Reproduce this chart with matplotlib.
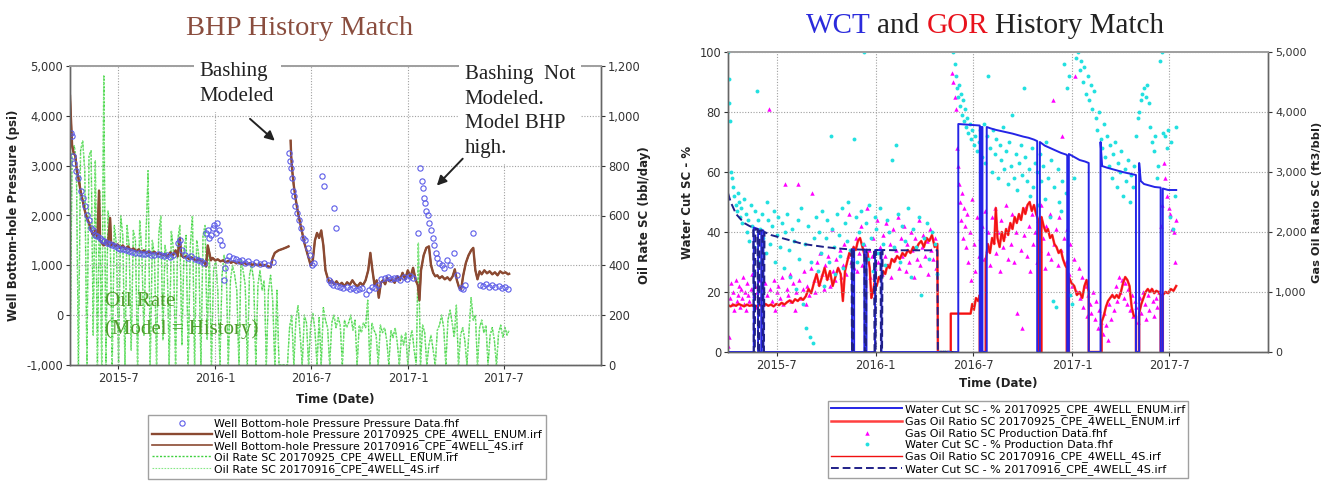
import numpy as np
import matplotlib
matplotlib.use('Agg')
import matplotlib.pyplot as plt
import matplotlib.dates as mdates
from matplotlib.ticker import FuncFormatter, FixedLocator, MultipleLocator

plt.rcParams['font.family'] = ['DejaVu Sans']

# time axis: days counted from 2015-04-01
START = mdates.date2num(np.datetime64('2015-04-01'))
END = mdates.date2num(np.datetime64('2018-01-01'))
tick_dates = ['2015-07-01', '2016-01-01', '2016-07-01', '2017-01-01', '2017-07-01']

# ---------------- BHP history match ----------------
# bottom-hole pressure from the simulation runs (day, psi); nan = well shut in
bhp_model = [
    (0, 4400), (2, 3900), (4, 3400), (7, 3250), (10, 3200), (13, 2900), (16, 2750),
    (20, 2500), (24, 2300), (28, 2100), (32, 1950), (36, 1850), (40, 1700), (44, 1600),
    (48, 1700), (52, 1550), (55, 2500), (57, 1500), (60, 1450), (64, 1400), (68, 1500),
    (72, 1400), (76, 1950), (78, 1400), (82, 1450), (86, 1380), (90, 1420), (95, 1350),
    (100, 1400), (105, 1330), (110, 1380), (115, 1300), (120, 1340), (125, 1280),
    (130, 1320), (135, 1260), (140, 1300), (145, 1250), (150, 1280), (155, 1240),
    (160, 1270), (165, 1220), (170, 1250), (175, 1200), (180, 1230), (185, 1180),
    (190, 1260), (195, 1200), (200, 1300), (204, 1180), (208, 1550), (211, 1200),
    (215, 1160), (220, 1180), (225, 1130), (230, 1160), (235, 1120), (240, 1100),
    (245, 1120), (250, 1080), (255, 1050), (258, 980), (261, 1400), (264, 1250),
    (267, 1100), (270, 1150), (275, 1100), (280, 1120), (285, 1080), (290, 1100),
    (295, 1060), (300, 1090), (305, 1050), (310, 1080), (315, 1040), (320, 1060),
    (325, 1030), (330, 1050), (335, 1020), (340, 1040), (345, 1010), (350, 1030),
    (355, 1000), (360, 1020), (365, 990), (370, 1010), (375, 980), (380, 960),
    (384, 1150), (388, 1250), (395, 1300), (403, 1330), (410, 1360), (414, 1380),
    (416, np.nan),
    (418, 3500), (419, 3200), (421, 2900), (424, 2600), (428, 2300), (432, 2050),
    (436, 1850), (440, 1650), (444, 1450), (448, 1300), (452, 1150), (456, 1000),
    (460, 1100), (464, 1500), (468, 1650), (472, 1550), (476, 1700), (480, 1400),
    (484, 900), (488, 750), (492, 650), (496, 700), (500, 620), (505, 680), (510, 600),
    (515, 650), (520, 580), (525, 660), (530, 610), (535, 700), (540, 620), (545, 580),
    (550, 650), (555, 600), (560, 700), (565, 900), (569, 1250), (573, 900), (577, 600),
    (581, 700), (585, 350), (589, 650), (593, 700), (597, 620), (601, 750), (605, 680),
    (610, 720), (615, 650), (620, 780), (625, 700), (630, 850), (635, 720), (640, 900),
    (645, 760), (650, 950), (655, 700), (659, 600), (662, 300), (665, 900), (670, 1200),
    (675, 1350), (680, 1380), (684, 1000), (688, 850), (692, 780), (696, 800), (700, 740),
    (705, 780), (710, 720), (715, 760), (720, 700), (725, 780), (729, 920), (733, 700),
    (737, 560), (741, 520), (745, 800), (750, 1050), (755, 1200), (760, 1300), (764, 1350),
    (768, 900), (772, 720), (776, 880), (780, 820), (785, 900), (790, 840), (795, 880),
    (800, 820), (805, 860), (810, 800), (815, 880), (820, 840), (825, 860), (830, 820),
    (832, 830),
]

# measured bottom-hole pressure (day, psi)
bhp_data = [
    (2, 3650), (4, 3600), (6, 3200), (8, 3050), (12, 2900), (16, 2750), (20, 2500),
    (24, 2350), (28, 2200), (32, 2000), (36, 1900), (40, 1750), (44, 1700), (48, 1600),
    (52, 1580), (56, 1550), (60, 1500), (65, 1480), (70, 1450), (75, 1420), (80, 1400),
    (85, 1380), (90, 1350), (95, 1330), (100, 1320), (106, 1300), (112, 1280), (118, 1260),
    (124, 1250), (130, 1240), (136, 1230), (142, 1220), (148, 1250), (154, 1210),
    (160, 1200), (166, 1230), (172, 1200), (178, 1180), (184, 1200), (190, 1170),
    (196, 1200), (204, 1450), (208, 1500), (212, 1300), (218, 1200), (224, 1150),
    (230, 1180), (236, 1120), (242, 1100), (248, 1080), (254, 1050), (258, 1650),
    (261, 1700), (264, 1550), (267, 1600), (270, 1750), (273, 1800), (276, 1650),
    (279, 1850), (282, 1700), (285, 1500), (288, 1400), (291, 700), (294, 950),
    (297, 1100), (302, 1180), (308, 1150), (314, 1120), (320, 1080), (326, 1100),
    (332, 1050), (338, 1080), (345, 1030), (352, 1060), (360, 1020), (368, 1050),
    (376, 1000), (384, 1070),
    (414, 3250), (416, 3100), (418, 2950), (420, 2750), (422, 2500), (424, 2400),
    (427, 2200), (430, 2050), (434, 1900), (438, 1750), (442, 1550), (446, 1500),
    (450, 1350), (454, 1200), (458, 1000), (462, 1050), (478, 2800), (481, 2600),
    (500, 2150), (503, 1750), (490, 700), (494, 650), (498, 600), (506, 580), (512, 560),
    (518, 540), (524, 560), (530, 520), (536, 540), (542, 500), (548, 520), (554, 550),
    (560, 430), (566, 500), (572, 560), (578, 540), (584, 600), (590, 720), (596, 740),
    (602, 760), (608, 720), (614, 750), (620, 740), (626, 700), (632, 760), (638, 720),
    (644, 780), (650, 750), (660, 1650), (664, 2950), (666, 2700), (668, 2550),
    (670, 2350), (672, 2250), (675, 2100), (678, 2000), (681, 1850), (684, 1700),
    (687, 1550), (690, 1400), (693, 1250), (696, 1150), (700, 1050), (704, 1000),
    (708, 950), (714, 1100), (720, 1000), (728, 1250), (734, 800), (740, 550), (744, 520),
    (748, 600), (764, 1650), (776, 600), (782, 580), (788, 620), (794, 570), (800, 600),
    (806, 560), (812, 590), (818, 550), (824, 560), (830, 530),
]

# oil rate (bbl/day), one value every 4 days from day 0 to day 832
oil_step = 4
oil_rate = [
    0, 850, 880, 820, 0, 860, 900, 780, 0, 840,
    860, 120, 820, 0, 700, 0, 1160, 0, 620, 540,
    0, 560, 480, 0, 600, 520, 0, 560, 480, 60,
    540, 500, 0, 580, 460, 120, 520, 780, 0, 500,
    440, 0, 520, 600, 100, 480, 420, 0, 540, 460,
    0, 500, 560, 80, 460, 520, 0, 480, 600, 0,
    500, 440, 0, 520, 560, 100, 460, 0, 380, 420,
    300, 0, 360, 440, 380, 0, 340, 400, 360, 300,
    0, 420, 380, 320, 0, 360, 400, 340, 0, 320,
    380, 300, 340, 0, 300, 360, 260, 0, 300, 0,
    0, 0, 0, 0, 150, 200, 0, 180, 240, 120,
    0, 200, 170, 0, 160, 210, 140, 0, 190, 0,
    230, 180, 150, 0, 170, 200, 150, 190, 160, 0,
    180, 150, 170, 200, 140, 180, 0, 160, 130, 170,
    150, 260, 0, 170, 140, 120, 0, 160, 130, 150,
    100, 0, 140, 110, 150, 90, 0, 120, 80, 130,
    0, 100, 140, 60, 0, 490, 0, 160, 130, 0,
    80, 120, 60, 0, 140, 160, 200, 150, 0, 180,
    220, 170, 110, 240, 0, 120, 150, 100, 0, 140,
    270, 180, 200, 0, 150, 180, 130, 160, 0, 120,
    150, 100, 0, 130, 160, 110, 150, 120, 140,
]

# ---------------- WCT / GOR history match ----------------
# water cut, run 20170925 ENUM (day, %)
wct_enum = [
    (0, 0), (48, 0), (48, 41.5), (56, 41), (56, 0), (62, 0), (62, 40.5), (66, 40.5),
    (66, 0), (231, 0), (231, 34.2), (235, 34.2), (235, 0), (254, 0), (254, 34.1),
    (258, 34.1), (258, 0), (274, 0), (274, 34), (286, 34), (286, 0),
    (429, 0), (429, 76), (469, 75.5), (469, 0), (472, 0), (472, 75), (474, 75), (474, 0),
    (482, 0), (482, 75), (490, 74.5), (500, 74), (510, 73.6), (520, 73.2), (530, 72.8),
    (540, 72.3), (550, 71.8), (560, 71.4), (570, 70.8), (576, 70.3), (576, 0), (581, 0),
    (581, 70), (590, 68.8), (600, 68), (610, 67.2), (620, 66.4), (630, 65.8), (632, 65.5),
    (632, 0), (635, 0), (635, 66), (645, 65), (655, 64), (665, 63.5), (672, 63), (672, 0),
    (694, 0), (694, 70), (697, 62), (705, 61.5), (715, 61), (725, 60.5), (735, 60),
    (745, 59.6), (755, 59.2), (760, 59), (760, 0), (766, 0), (766, 63), (769, 57),
    (775, 56), (785, 55.5), (795, 55), (806, 54.8), (806, 0), (810, 0), (810, 54.5),
    (820, 54), (835, 54),
]

# water cut, run 20170916 4S (day, %)
wct_4s = [
    (0, 53), (5, 50), (10, 48), (15, 46), (20, 45), (25, 44), (30, 43), (35, 42.5),
    (40, 42), (47, 41.5), (48, 0), (50, 0), (51, 41), (55, 41), (56, 0), (58, 0),
    (59, 40.5), (64, 40.5), (65, 0), (67, 0), (68, 40), (80, 39), (100, 38), (120, 37),
    (140, 36), (160, 35.5), (180, 35), (200, 34.6), (220, 34.3), (230, 34.2), (231, 0),
    (233, 0), (234, 34.2), (254, 34.1), (255, 0), (257, 0), (258, 34.1), (272, 34),
    (273, 0), (275, 0), (276, 34), (284, 34), (285, 0), (287, 0), (288, 34), (320, 33.9),
    (360, 33.9), (390, 33.9), (391, 0), (420, 0),
]

# gas-oil ratio, simulation (day, ft3/bbl)
gor_model = [
    (0, 780), (5, 760), (10, 790), (15, 770), (20, 800), (25, 780), (30, 760), (35, 790),
    (40, 770), (45, 780), (50, 760), (60, 780), (66, 760), (70, 800), (75, 770), (80, 790),
    (85, 760), (90, 800), (95, 780), (100, 820), (105, 790), (110, 830), (115, 860),
    (120, 820), (125, 880), (130, 850), (135, 900), (140, 870), (145, 930), (150, 1050),
    (155, 980), (160, 1150), (165, 1300), (170, 1100), (175, 1250), (180, 1400),
    (185, 1200), (190, 1350), (195, 1100), (200, 1250), (205, 1400), (210, 1300),
    (214, 850), (218, 1350), (222, 1500), (226, 1650), (230, 1600), (234, 1750),
    (238, 1700), (242, 1850), (246, 1900), (249, 1800), (252, 1700), (256, 1550),
    (260, 1650), (264, 1400), (267, 900), (270, 1000), (273, 1150), (277, 1100),
    (281, 1250), (285, 1200), (289, 1350), (293, 1300), (297, 1450), (301, 1400),
    (305, 1550), (310, 1500), (315, 1600), (320, 1550), (325, 1650), (330, 1600),
    (335, 1700), (340, 1650), (345, 1750), (350, 1700), (355, 1800), (360, 1850),
    (365, 1750), (370, 1900), (375, 1850), (380, 1950), (385, 1750), (390, 1800),
    (391, 0), (415, 0), (415, 640), (420, 640), (440, 640), (452, 640), (455, 800),
    (458, 700), (462, 900), (466, 850), (469, 950), (469, 0), (480, 0), (480, 1500),
    (484, 1800), (488, 1650), (492, 1900), (496, 1800), (499, 2400), (502, 1900),
    (506, 1750), (510, 2000), (514, 1850), (518, 2050), (522, 1950), (526, 2150),
    (530, 2050), (534, 2250), (538, 2150), (542, 2300), (546, 2200), (550, 2400),
    (554, 2300), (558, 2450), (562, 2500), (566, 2350), (570, 2450), (574, 2300),
    (578, 2200), (578, 0), (584, 0), (584, 2250), (588, 2100), (592, 2000), (596, 2050),
    (600, 1900), (604, 1950), (608, 1800), (612, 1750), (616, 1650), (620, 1700),
    (624, 1550), (628, 1450), (631, 1400), (631, 0), (635, 0), (635, 1250), (640, 1150),
    (645, 1100), (650, 950), (655, 1000), (660, 900), (664, 1100), (668, 1200),
    (672, 1000), (672, 0), (696, 0), (696, 500), (700, 600), (704, 750), (708, 850),
    (712, 900), (716, 950), (720, 900), (724, 950), (728, 900), (732, 1000), (736, 1150),
    (740, 1250), (744, 1200), (748, 1100), (752, 750), (756, 600), (760, 600), (760, 0),
    (766, 0), (766, 650), (770, 800), (774, 900), (778, 1000), (782, 1050), (786, 1000),
    (790, 1050), (794, 980), (798, 1020), (802, 1000), (806, 950), (806, 0), (810, 0),
    (810, 950), (815, 1000), (820, 980), (825, 1050), (830, 1020), (835, 1100),
]

# production data: water cut (day, %)
wct_data = [
    (0, 100), (1, 91), (2, 83), (3, 77), (5, 60), (7, 58), (9, 55), (12, 52), (14, 49),
    (16, 47), (18, 53), (20, 50), (22, 45), (25, 48), (27, 43), (30, 51), (33, 46),
    (35, 40), (38, 44), (40, 37), (42, 49), (45, 42), (48, 35), (50, 47), (54, 87),
    (56, 44), (58, 30), (60, 41), (63, 46), (66, 38), (70, 33), (73, 50), (75, 44),
    (78, 36), (82, 42), (85, 47), (88, 30), (91, 39), (94, 45), (97, 35), (100, 43),
    (104, 28), (107, 40), (110, 46), (113, 34), (116, 25), (120, 41), (123, 37), (126, 21),
    (130, 44), (133, 31), (136, 48), (140, 16), (143, 36), (146, 8), (149, 42), (152, 5),
    (155, 30), (158, 3), (161, 38), (164, 45), (167, 27), (170, 40), (173, 33), (176, 47),
    (179, 22), (182, 38), (185, 44), (188, 30), (191, 72), (194, 41), (197, 35), (200, 26),
    (203, 46), (206, 39), (209, 32), (212, 48), (215, 28), (218, 43), (221, 37), (224, 50),
    (228, 34), (235, 71), (238, 45), (241, 30), (244, 40), (248, 47), (251, 36), (254, 100),
    (257, 43), (260, 31), (263, 49), (266, 38), (270, 27), (273, 45), (276, 41), (280, 33),
    (284, 48), (288, 36), (292, 29), (296, 44), (300, 40), (305, 64), (309, 35), (313, 69),
    (317, 46), (321, 30), (325, 42), (330, 37), (335, 48), (340, 25), (345, 41), (350, 35),
    (355, 45), (360, 19), (365, 38), (370, 43), (375, 31), (380, 40), (385, 36), (390, 26),
    (395, 0), (400, 0), (405, 0), (410, 0),
    (420, 100), (422, 96), (424, 92), (426, 88), (428, 85), (430, 89), (432, 82), (434, 86),
    (436, 79), (438, 84), (440, 77), (442, 81), (444, 75), (446, 78), (448, 73), (450, 76),
    (452, 71), (455, 74), (458, 69), (461, 72), (464, 67), (467, 70), (470, 74), (473, 65),
    (476, 76), (479, 63), (482, 72), (485, 92), (488, 68), (491, 60), (494, 74), (497, 66),
    (500, 71), (503, 58), (506, 69), (509, 64), (512, 75), (515, 61), (518, 67), (521, 56),
    (524, 70), (527, 62), (530, 79), (533, 58), (536, 66), (539, 54), (542, 63), (545, 69),
    (548, 59), (551, 88), (554, 65), (557, 57), (560, 61), (563, 52), (566, 68), (569, 55),
    (572, 63), (575, 60), (578, 49), (581, 66), (584, 57), (587, 62), (590, 51), (593, 70),
    (596, 58), (599, 45), (602, 64), (605, 17), (608, 55), (611, 15), (614, 61), (617, 50),
    (620, 47), (623, 57), (626, 96), (629, 53), (632, 88), (635, 92), (638, 19), (641, 16),
    (644, 58), (648, 98), (652, 100), (655, 94), (658, 97), (661, 90), (664, 95), (667, 86),
    (670, 92), (673, 84), (676, 89), (679, 81), (682, 87), (685, 78), (688, 74), (691, 80),
    (694, 71), (697, 68), (700, 76), (703, 65), (706, 72), (709, 62), (712, 69), (715, 58),
    (718, 66), (721, 70), (724, 55), (727, 63), (730, 60), (733, 67), (736, 52), (739, 61),
    (742, 57), (745, 64), (748, 50), (751, 59), (754, 55), (757, 62), (760, 72), (763, 78),
    (766, 80), (769, 84), (772, 86), (775, 88), (778, 85), (781, 89), (784, 83), (787, 75),
    (790, 70), (793, 67), (796, 72), (799, 58), (802, 62), (805, 97), (808, 100), (811, 73),
    (814, 72), (817, 68), (820, 74), (823, 45), (826, 70), (829, 41), (832, 52), (835, 75),
]

# production data: gas-oil ratio (day, ft3/bbl)
gor_data = [
    (0, 100), (2, 250), (4, 900), (6, 1150), (8, 800), (10, 1000), (12, 700), (14, 1200),
    (16, 850), (18, 950), (20, 1100), (22, 750), (24, 1050), (26, 900), (28, 1250),
    (30, 800), (32, 1000), (34, 700), (36, 1150), (38, 950), (40, 850), (42, 1050),
    (44, 1300), (46, 800), (48, 950), (50, 1100), (52, 750), (54, 1000), (57, 1200),
    (60, 900), (63, 1050), (66, 800), (69, 1150), (72, 950), (76, 4050), (79, 1050),
    (82, 850), (85, 1200), (88, 700), (91, 1000), (94, 1100), (97, 900), (100, 1250),
    (103, 800), (106, 2800), (109, 1050), (112, 950), (115, 1300), (118, 850), (121, 1150),
    (124, 700), (127, 1000), (130, 2800), (133, 1200), (136, 900), (139, 1050), (142, 1350),
    (145, 800), (148, 1100), (151, 950), (154, 1400), (157, 2650), (160, 1200), (163, 1000),
    (166, 1500), (169, 1150), (172, 1650), (175, 1300), (178, 1050), (181, 1450),
    (184, 1250), (187, 1600), (190, 1100), (193, 2050), (196, 1350), (199, 1200),
    (202, 1550), (205, 1400), (208, 1700), (211, 1250), (214, 1450), (217, 1800),
    (220, 1300), (223, 1600), (226, 2300), (229, 1500), (232, 1750), (235, 1400),
    (238, 1900), (241, 1350), (244, 1650), (247, 2100), (250, 1450), (253, 1800),
    (256, 1550), (259, 2400), (262, 1700), (265, 1250), (268, 1600), (271, 1900),
    (274, 1400), (277, 2200), (280, 1500), (283, 1750), (286, 1300), (289, 1950),
    (292, 1600), (295, 2150), (298, 1450), (301, 1800), (304, 1250), (307, 2050),
    (310, 1550), (313, 1700), (316, 2250), (319, 1400), (322, 1900), (325, 1600),
    (328, 2100), (331, 1350), (334, 1800), (337, 1500), (340, 2000), (343, 1700),
    (346, 1250), (349, 1900), (352, 1550), (355, 2200), (358, 1450), (361, 1750),
    (364, 1950), (367, 1600), (370, 1850), (373, 1300), (376, 2050), (379, 1700),
    (382, 1550), (385, 1900), (388, 1400),
    (392, 0), (396, 0), (400, 0), (404, 0), (408, 0), (412, 0),
    (418, 4650), (420, 4500), (422, 4250), (424, 4050), (426, 3400), (428, 3100),
    (430, 2800), (432, 2500), (434, 2200), (436, 2650), (438, 1900), (440, 2400),
    (442, 2100), (444, 1750), (446, 2300), (448, 1500), (450, 2000), (452, 1200),
    (455, 2550), (458, 1800), (461, 1350), (464, 2250), (467, 1600), (470, 1900),
    (473, 2100), (476, 1550), (479, 2350), (482, 1700), (485, 2000), (488, 1450),
    (491, 2250), (494, 1850), (497, 2400), (500, 1650), (503, 2000), (506, 1350),
    (509, 2200), (512, 1750), (515, 1950), (518, 2450), (521, 1550), (524, 2100),
    (527, 1800), (530, 2300), (533, 1500), (536, 2000), (539, 650), (542, 2250),
    (545, 1700), (548, 400), (551, 1950), (554, 2400), (557, 1600), (560, 2100),
    (563, 1350), (566, 2300), (569, 1800), (572, 2000), (575, 1500), (578, 2200),
    (581, 1700), (584, 2450), (587, 1900), (590, 1400), (593, 2100), (596, 1650),
    (599, 2300), (602, 1550), (605, 4200), (608, 1800), (611, 2050), (614, 1450),
    (617, 2250), (620, 1700), (623, 3600), (626, 1900), (629, 1500), (632, 2050),
    (635, 1300), (638, 1800), (641, 1100), (644, 1550), (647, 4600), (650, 1000),
    (653, 1400), (656, 900), (659, 1250), (662, 750), (665, 1100), (668, 600), (671, 950),
    (674, 800), (677, 650), (680, 1000), (683, 550), (686, 850), (689, 400), (692, 700),
    (695, 500), (698, 300), (701, 650), (704, 450), (707, 200), (710, 800), (713, 550),
    (716, 950), (719, 700), (722, 1100), (725, 850), (728, 1250), (731, 1000), (734, 1200),
    (737, 900), (740, 1150), (743, 800), (746, 1050), (749, 700), (752, 950), (755, 600),
    (758, 850), (761, 750), (764, 500), (767, 900), (770, 650), (773, 1000), (776, 800),
    (779, 550), (782, 950), (785, 700), (788, 1050), (791, 850), (794, 600), (797, 900),
    (800, 750), (803, 1000), (806, 2100), (809, 2450), (812, 3150), (815, 2900),
    (818, 2600), (821, 2400), (824, 2300), (827, 2050), (830, 2000), (833, 1500),
    (835, 2200),
]

bhp_labels = ['Well Bottom-hole Pressure Pressure Data.fhf',
              'Well Bottom-hole Pressure 20170925_CPE_4WELL_ENUM.irf',
              'Well Bottom-hole Pressure 20170916_CPE_4WELL_4S.irf',
              'Oil Rate SC 20170925_CPE_4WELL_ENUM.irf',
              'Oil Rate SC 20170916_CPE_4WELL_4S.irf']
wct_labels = ['Water Cut SC - % 20170925_CPE_4WELL_ENUM.irf',
              'Gas Oil Ratio SC 20170925_CPE_4WELL_ENUM.irf',
              'Gas Oil Ratio SC Production Data.fhf',
              'Water Cut SC - % Production Data.fhf',
              'Gas Oil Ratio SC 20170916_CPE_4WELL_4S.irf',
              'Water Cut SC - % 20170916_CPE_4WELL_4S.irf']

SERIF = 'Liberation Serif'
W, H = 1325, 482


def xy(pairs):
    d, v = zip(*pairs)
    return START + np.array(d, dtype=float), np.array(v, dtype=float)


def date_label(v, pos):
    d = mdates.num2date(v)
    return '%d-%d' % (d.year, d.month)


def comma(v, pos):
    return '{:,.0f}'.format(v)


def style_axes(ax, ax2):
    ax.set_xlim(START, END)
    ax.xaxis.set_major_locator(FixedLocator(
        [mdates.date2num(np.datetime64(d)) for d in tick_dates]))
    ax.xaxis.set_major_formatter(FuncFormatter(date_label))
    ax.grid(True, color='#a0a0a0', linestyle=(0, (1, 1.5)), linewidth=0.8)
    for a in (ax, ax2):
        a.tick_params(labelsize=8.3, colors='#333333', length=3, width=0.8, pad=2)
        for side in ('left', 'right', 'bottom'):
            a.spines[side].set_color('#666666')
            a.spines[side].set_linewidth(1.0)
        a.spines['top'].set_color('#a0a0a0')
        a.spines['top'].set_linewidth(1.3)
    ax.yaxis.set_major_formatter(FuncFormatter(comma))
    ax2.yaxis.set_major_formatter(FuncFormatter(comma))
    # primary series drawn over the twin axis series
    ax.set_zorder(ax2.get_zorder() + 1)
    ax.patch.set_visible(False)


def text_width(fig, renderer, s, **kw):
    t = fig.text(0, 0, s + 'x', **kw)
    b = fig.text(0, 0, 'x', **kw)
    w = t.get_window_extent(renderer).width - b.get_window_extent(renderer).width
    t.remove()
    b.remove()
    return w


def colored_title(fig, parts, xc, y, **kw):
    # words of one title line, each in its own colour
    renderer = fig.canvas.get_renderer()
    full = ' '.join(s for s, c in parts)
    x0 = xc - text_width(fig, renderer, full, **kw) / fig.bbox.width / 2
    prefix = ''
    for s, c in parts:
        off = text_width(fig, renderer, prefix, **kw) if prefix else 0
        fig.text(x0 + off / fig.bbox.width, y, s, color=c, ha='left', va='baseline', **kw)
        prefix += s + ' '


fig = plt.figure(figsize=(W / 100, H / 100), dpi=100)

# ---------- left: BHP ----------
ax1 = fig.add_axes([70 / W, 1 - 365 / H, 531 / W, 299 / H])
ax1r = ax1.twinx()

oil_x = START + np.arange(len(oil_rate)) * oil_step
l_oil1, = ax1r.plot(oil_x, oil_rate, color='#3fd13f', lw=1.0, linestyle=(0, (1.5, 1.2)))
l_oil2, = ax1r.plot(oil_x, oil_rate, color='#86e886', lw=0.8, linestyle=(0, (1.5, 1.2)))

bx, by = xy(bhp_model)
l_bhp1, = ax1.plot(bx, by, color='#8b4a32', lw=1.7)
l_bhp2, = ax1.plot(bx, by, color='#8b4a32', lw=1.2)
dx, dy = xy(bhp_data)
l_pts, = ax1.plot(dx, dy, linestyle='none', marker='o', ms=3.8, mfc='none',
                  mec='#5c5ce8', mew=0.8)

ax1.set_ylim(-1000, 5000)
ax1.yaxis.set_major_locator(MultipleLocator(1000))
ax1r.set_ylim(0, 1200)
ax1r.yaxis.set_major_locator(MultipleLocator(200))
style_axes(ax1, ax1r)

ax1.set_xlabel('Time (Date)', fontsize=8.5, fontweight='bold', color='#222222')
ax1.xaxis.set_label_coords(0.5, -0.095)
ax1.set_ylabel('Well Bottom-hole Pressure (psi)', fontsize=8.5, fontweight='bold',
               color='#222222')
ax1.yaxis.set_label_coords(-0.094, 0.5)
ax1r.set_ylabel('Oil Rate SC (bbl/day)', fontsize=8.5, fontweight='bold', color='#222222')
ax1r.yaxis.set_label_coords(1.07, 0.5)

box = dict(boxstyle='square,pad=0.3', fc='white', ec='none')
ax1.text(START + 246, 5080, 'Bashing\nModeled', family=SERIF, fontsize=15,
         color='#222222', ha='left', va='top', linespacing=1.4, bbox=box,
         clip_on=False, zorder=6)
ax1.text(START + 748, 5020, 'Bashing  Not\nModeled.\nModel BHP\nhigh.', family=SERIF,
         fontsize=15, color='#222222', ha='left', va='top', linespacing=1.4, bbox=box,
         clip_on=False, zorder=6)
ax1.text(START + 66, 470, 'Oil Rate\n(Model = History)', family=SERIF, fontsize=15,
         color='#4f9c2c', ha='left', va='top', linespacing=1.55, zorder=6)
arrow = dict(arrowstyle='-|>', color='#222222', lw=1.4, mutation_scale=14,
             shrinkA=0, shrinkB=0)
ax1.annotate('', xy=(START + 388, 3500), xytext=(START + 341, 3940),
             arrowprops=arrow, zorder=6)
ax1.annotate('', xy=(START + 695, 2600), xytext=(START + 744, 3140),
             arrowprops=arrow, zorder=6)

fig.legend([l_pts, l_bhp1, l_bhp2, l_oil1, l_oil2], bhp_labels, loc='upper left',
           bbox_to_anchor=(148 / W, 1 - 415 / H), fontsize=7.9, labelspacing=0.05,
           handlelength=5.5, handletextpad=0.2, borderpad=0.35, borderaxespad=0,
           numpoints=1, frameon=True, fancybox=False, edgecolor='#888888')

fig.text(300 / W, 1 - 35 / H, 'BHP History Match', family=SERIF, fontsize=20.5,
         color='#8a4d3e', ha='center', va='baseline')

# ---------- right: WCT / GOR ----------
ax2 = fig.add_axes([728 / W, 1 - 352 / H, 540 / W, 300 / H])
ax2r = ax2.twinx()

gx, gy = xy(gor_data)
l_gpts, = ax2r.plot(gx, gy, linestyle='none', marker='^', ms=3.2, color='#ff00ff', mew=0)
gmx, gmy = xy(gor_model)
l_gor1, = ax2r.plot(gmx, gmy, color='#ff4040', lw=1.8)
l_gor2, = ax2r.plot(gmx, gmy, color='#f01010', lw=1.0)

wx, wy = xy(wct_data)
l_wpts, = ax2.plot(wx, wy, linestyle='none', marker='o', ms=2.8, color='#22e0e0', mew=0)
ex, ey = xy(wct_enum)
l_wct1, = ax2.plot(ex, ey, color='#2424e6', lw=1.4)
sx, sy = xy(wct_4s)
l_wct2, = ax2.plot(sx, sy, color='#202088', lw=1.4, linestyle=(0, (4, 2)))

ax2.set_ylim(0, 100)
ax2.yaxis.set_major_locator(MultipleLocator(20))
ax2r.set_ylim(0, 5000)
ax2r.yaxis.set_major_locator(MultipleLocator(1000))
style_axes(ax2, ax2r)
ax2r.tick_params(labelsize=8.0)

ax2.set_xlabel('Time (Date)', fontsize=8.5, fontweight='bold', color='#222222')
ax2.xaxis.set_label_coords(0.5, -0.085)
ax2.set_ylabel('Water Cut SC - %', fontsize=8.5, fontweight='bold', color='#222222')
ax2.yaxis.set_label_coords(-0.063, 0.5)
ax2r.set_ylabel('Gas Oil Ratio SC (ft3/bbl)', fontsize=8.2, fontweight='bold',
                color='#222222')
ax2r.yaxis.set_label_coords(1.081, 0.5)

fig.legend([l_wct1, l_gor1, l_gpts, l_wpts, l_gor2, l_wct2], wct_labels, loc='upper left',
           bbox_to_anchor=(828 / W, 1 - 401 / H), fontsize=8.0, labelspacing=0.12,
           handlelength=6.4, handletextpad=0.2, borderpad=0.3, borderaxespad=0,
           numpoints=1, frameon=True, fancybox=False, edgecolor='#888888')

colored_title(fig, [('WCT', '#2b2bdc'), ('and', '#222222'), ('GOR', '#e8121c'),
                    ('History Match', '#222222')],
              985 / W, 1 - 33 / H, family=SERIF, fontsize=21)

fig.savefig('out.png', dpi=100)
